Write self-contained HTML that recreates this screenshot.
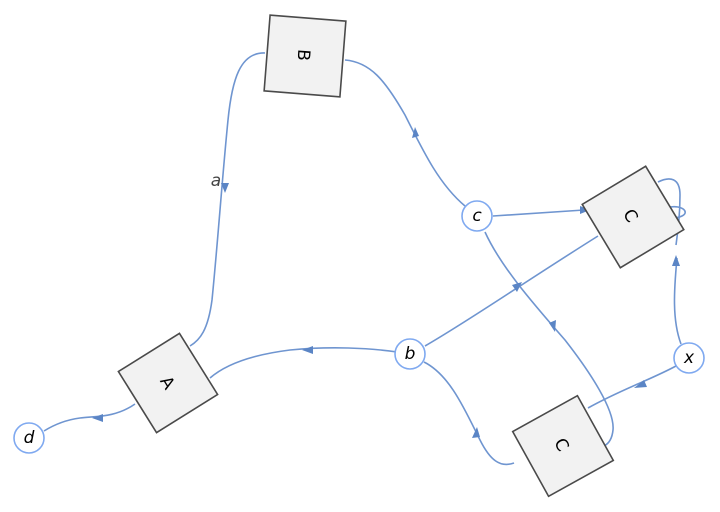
<!DOCTYPE html>
<html><head><meta charset="utf-8"><style>html,body{margin:0;padding:0;background:#fff}svg{display:block}</style></head>
<body>
<svg width="720" height="512" viewBox="0 0 720 512" xmlns="http://www.w3.org/2000/svg" font-family="DejaVu Sans, Liberation Sans, sans-serif">
<g fill="none" stroke="#6f95d0" stroke-width="1.6">
<path d="M265,53 C240,52 232,80 228,120 C222,180 218,240 212,300 C208,330 200,340 190,346"/>
<path d="M465,206 C440,185 425,155 405,115 C385,80 370,62 345,60"/>
<path d="M493,216 L584,210"/>
<path d="M485,232 C500,265 530,300 565,340 C590,372 615,410 613,430 C612,440 608,444 604,446"/>
<path d="M425,346 C470,320 520,285 598,236"/>
<path d="M397,352 C370,348 330,346 290,350 C250,355 225,365 210,378"/>
<path d="M424,362 C450,375 465,410 480,440 C490,460 500,468 514,463"/>
<path d="M681,344 C672,320 674,290 677,258"/>
<path d="M676,366 C650,380 620,390 588,408"/>
<path d="M658,182 C670,176 680,178 680,195 C680,215 678,230 676,245"/>
<path d="M670,207 C682,205 690,212 682,216 C678,218 674,218 670,217"/>
<path d="M135,404 C115,418 95,416 80,418 C65,420 52,426 44,431"/>
</g>
<g fill="#5b85c5">
<polygon points="225,193 221,183 229,183"/>
<polygon points="415,127 412,138 419,136"/>
<polygon points="590,210 580,206 580,214"/>
<polygon points="555,332 549,323 556,320"/>
<polygon points="522,282 512,285 517,292"/>
<polygon points="302,350 313,346 313,354"/>
<polygon points="477,427 472,438 480,437"/>
<polygon points="676,255 672,266 680,266"/>
<polygon points="634,388 644,380 647,387"/>
<polygon points="92,418 103,414 103,422"/>
</g>
<g stroke="#4a4a4a" stroke-width="1.6" fill="#f2f2f2">
<rect x="-38" y="-38" width="76" height="76" transform="translate(305,56) rotate(4.5)"/>
<rect x="-37" y="-37" width="74" height="74" transform="translate(633,217) rotate(-31)"/>
<rect x="-37" y="-37" width="74" height="74" transform="translate(563,446) rotate(-29)"/>
<rect x="-36" y="-36" width="72" height="72" transform="translate(168,383) rotate(-32)"/>
</g>
<g font-size="17" text-anchor="middle" dominant-baseline="central" fill="#000">
<text transform="translate(303,55) rotate(94)">B</text>
<text transform="translate(630,216) rotate(59)">C</text>
<text transform="translate(561,445) rotate(61)">C</text>
<text transform="translate(167,383) rotate(58)">A</text>
</g>
<g stroke="#7fa9f0" stroke-width="1.6" fill="#fff">
<circle cx="477" cy="216" r="15"/>
<circle cx="410" cy="354" r="15"/>
<circle cx="689" cy="358" r="15"/>
<circle cx="29" cy="438" r="15"/>
</g>
<g font-size="17" font-style="italic" text-anchor="middle" dominant-baseline="central" fill="#000">
<text x="477" y="216">c</text>
<text x="410" y="354">b</text>
<text x="689" y="358">x</text>
<text x="29" y="438">d</text>
<text x="216" y="181" fill="#444">a</text>
</g>
</svg>
</body></html>
